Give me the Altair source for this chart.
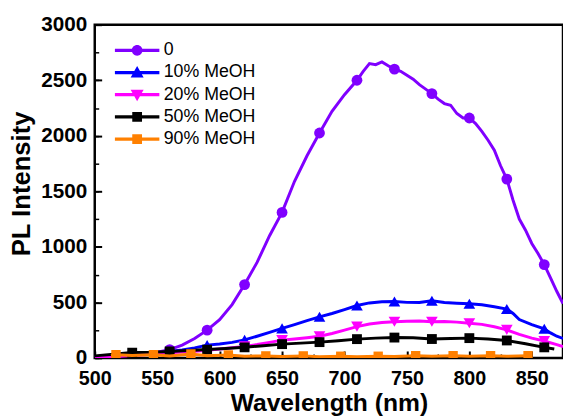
import altair as alt
import pandas as pd

series_names = ["0", "10% MeOH", "20% MeOH", "50% MeOH", "90% MeOH"]
series_colors = ["#8000ff", "#0000ff", "#ff00ff", "#000000", "#ff8000"]
series_shapes = ["circle", "triangle-up", "triangle-down", "square", "square"]
marker_sizes = [120, 140, 140, 100, 90]

# legend symbols: line + marker
legend_paths = [
    "M-2.05,-0.15H2.05V0.15H-2.05Z M0.5,0A0.5,0.5 0 1,1 -0.5,0A0.5,0.5 0 1,1 0.5,0Z",
    "M-2.05,-0.15H2.05V0.15H-2.05Z M0,-0.6L0.6,0.45L-0.6,0.45Z",
    "M-2.05,-0.15H2.05V0.15H-2.05Z M0,0.6L-0.6,-0.45L0.6,-0.45Z",
    "M-2.05,-0.15H2.05V0.15H-2.05Z M-0.45,-0.45H0.45V0.45H-0.45Z",
    "M-2.05,-0.15H2.05V0.15H-2.05Z M-0.45,-0.45H0.45V0.45H-0.45Z",
]

x_ticks = [500, 550, 600, 650, 700, 750, 800, 850]
x_minor = [500, 525, 550, 575, 600, 625, 650, 675, 700, 725, 750, 775, 800, 825, 850, 875]
y_ticks = [0, 500, 1000, 1500, 2000, 2500, 3000]
y_minor = [0, 250, 500, 750, 1000, 1250, 1500, 1750, 2000, 2250, 2500, 2750, 3000]

wl_0 = [500, 510, 520, 530, 540, 550, 560, 570, 580, 590, 600, 610, 620, 630, 640, 650,
        660, 670, 680, 690, 700, 710, 715, 720, 725, 730, 735, 740, 745, 750, 755, 760,
        765, 770, 775, 780, 785, 790, 795, 800, 805, 810, 815, 820, 825, 830, 835, 840,
        845, 850, 855, 860, 865, 870, 875]
pl_0 = [10, 16, 22, 30, 40, 52, 74, 115, 175, 250, 345, 480, 660, 860, 1100, 1310,
        1590, 1820, 2025, 2220, 2370, 2500, 2580, 2650, 2640, 2665, 2630, 2600, 2580, 2545, 2510, 2460,
        2420, 2380, 2330, 2290, 2275, 2200, 2160, 2160, 2110, 2040, 1960, 1870, 1730, 1610, 1420, 1250,
        1150, 1030, 940, 840, 720, 600, 490]
mk_0 = [560, 590, 620, 650, 680, 710, 740, 770, 800, 830, 860]

wl_10 = [500, 510, 520, 530, 540, 550, 560, 570, 580, 590, 600, 610, 620, 630, 640, 650,
         660, 670, 680, 690, 700, 710, 720, 730, 740, 750, 760, 770, 780, 790, 800, 810,
         820, 830, 835, 840, 850, 860, 865, 870, 875]
pl_10 = [8, 12, 18, 25, 33, 45, 58, 72, 90, 115, 125, 140, 162, 195, 230, 266,
         300, 335, 370, 400, 435, 472, 495, 505, 508, 500, 498, 515, 498, 492, 488, 478,
         460, 440, 400, 345, 300, 262, 225, 195, 175]
mk_10 = [590, 620, 650, 680, 710, 740, 770, 800, 830, 860]

wl_20 = [500, 510, 520, 530, 540, 550, 560, 570, 580, 590, 600, 610, 620, 630, 640, 650,
         660, 670, 680, 690, 700, 710, 720, 730, 740, 750, 760, 770, 780, 790, 800, 810,
         820, 830, 840, 850, 860, 870, 875]
pl_20 = [5, 10, 15, 22, 28, 36, 45, 52, 60, 68, 80, 92, 104, 120, 140, 160,
         170, 182, 195, 220, 250, 282, 305, 318, 326, 330, 332, 326, 328, 322, 312, 302,
         280, 252, 212, 178, 152, 120, 102]
mk_20 = [620, 650, 680, 710, 740, 770, 800, 830, 860]

wl_50 = [500, 515, 530, 545, 560, 575, 590, 605, 620, 635, 650, 665, 680, 695, 710, 725,
         740, 755, 770, 785, 800, 815, 830, 845, 860, 868]
pl_50 = [18, 33, 48, 50, 58, 66, 75, 85, 95, 110, 124, 133, 142, 155, 169, 178,
         183, 181, 170, 175, 178, 170, 157, 128, 95, 80]
mk_50 = [530, 560, 590, 620, 650, 680, 710, 740, 770, 800, 830, 860]

wl_90 = [513, 517, 530, 547, 560, 577, 590, 607, 620, 637, 650, 667, 680, 697, 710, 727,
         740, 757, 770, 787, 800, 817, 830, 847, 850]
pl_90 = [22, 28, 22, 28, 18, 35, 20, 26, 15, 18, 12, 18, 10, 15, 10, 15,
         12, 20, 14, 20, 15, 20, 14, 20, 18]
mk_90 = [517, 547, 577, 607, 637, 667, 697, 727, 757, 787, 817, 847]

all_wl = [wl_0, wl_10, wl_20, wl_50, wl_90]
all_pl = [pl_0, pl_10, pl_20, pl_50, pl_90]
all_mk = [mk_0, mk_10, mk_20, mk_50, mk_90]

rows = []
for name, wls, pls, mks in zip(series_names, all_wl, all_pl, all_mk):
    for w, p in zip(wls, pls):
        rows.append({"series": name, "wl": w, "pl": p, "marker": w in mks})
df = pd.DataFrame(rows)

FONT = "Liberation Sans"
xscale = alt.Scale(domain=[500, 875], nice=False, zero=False)
yscale = alt.Scale(domain=[0, 3000], nice=False)

main_x = alt.Axis(values=x_ticks, title="Wavelength (nm)", orient="bottom", ticks=False,
                  domain=False, grid=False, labelFont=FONT, labelFontWeight="bold",
                  labelFontSize=20, labelColor="black", labelPadding=11, labelFlush=False,
                  titleFont=FONT, titleFontSize=25, titleFontWeight="bold",
                  titleColor="black", titlePadding=2, format="d")
main_y = alt.Axis(values=y_ticks, title="PL Intensity", orient="left", ticks=False,
                  domain=False, grid=False, labelFont=FONT, labelFontWeight="bold",
                  labelFontSize=21, labelColor="black", labelPadding=8, labelFlush=False,
                  titleFont=FONT, titleFontSize=26, titleFontWeight="bold",
                  titleColor="black", titlePadding=6, titleY=161, format="d")
major_x = alt.Axis(values=x_ticks, orient="top", offset=-338, labels=False, domain=False,
                   grid=False, title=None, tickSize=7, tickWidth=2, tickColor="black")
major_y = alt.Axis(values=y_ticks, orient="right", offset=-475, labels=False, domain=False,
                   grid=False, title=None, tickSize=7, tickWidth=2, tickColor="black")
minor_x = alt.Axis(values=x_minor, orient="top", offset=-338, labels=False, domain=False,
                   grid=False, title=None, tickSize=4, tickWidth=1.5, tickColor="black")
minor_y = alt.Axis(values=y_minor, orient="right", offset=-475, labels=False, domain=False,
                   grid=False, title=None, tickSize=4, tickWidth=1.5, tickColor="black")

layers = []
for i, (name, color, shape, msize) in enumerate(zip(series_names, series_colors, series_shapes, marker_sizes)):
    sub = df[df["series"] == name]
    line = alt.Chart(sub).mark_line(color=color, strokeWidth=3, clip=True).encode(
        x=alt.X("wl:Q", scale=xscale, axis=main_x if i == 0 else None),
        y=alt.Y("pl:Q", scale=yscale, axis=main_y if i == 0 else None),
    )
    pts = alt.Chart(sub[sub["marker"]]).mark_point(
        shape=shape, filled=True, color=color, size=msize, opacity=1, clip=True
    ).encode(
        x=alt.X("wl:Q", scale=xscale, axis=major_x if i == 0 else None),
        y=alt.Y("pl:Q", scale=yscale, axis=major_y if i == 0 else None),
    )
    layers += [line, pts]

leg = alt.Legend(orient="none", legendX=32, legendY=15, title=None, labelFont=FONT,
                 labelFontSize=18, labelColor="black", symbolSize=484, symbolStrokeWidth=0,
                 labelOffset=16, padding=0, rowPadding=2.5, symbolOpacity=1, labelLimit=300)

legend_layer = alt.Chart(df).transform_filter("false").mark_point(
    filled=True, opacity=1, size=484
).encode(
    x=alt.X("wl:Q", scale=xscale, axis=minor_x),
    y=alt.Y("pl:Q", scale=yscale, axis=minor_y),
    color=alt.Color("series:N", scale=alt.Scale(domain=series_names, range=series_colors), legend=leg),
    shape=alt.Shape("series:N", scale=alt.Scale(domain=series_names, range=legend_paths), legend=leg),
)
layers.append(legend_layer)

chart = alt.layer(*layers).resolve_axis(x="independent", y="independent").properties(
    width=475, height=338,
    autosize=alt.AutoSizeParams(type="none"),
    padding={"left": 88, "top": 14, "right": 0, "bottom": 56},
).configure_view(stroke="black", strokeWidth=2.5)

chart.save("out.html", embed_options={"renderer": "svg", "actions": False})
